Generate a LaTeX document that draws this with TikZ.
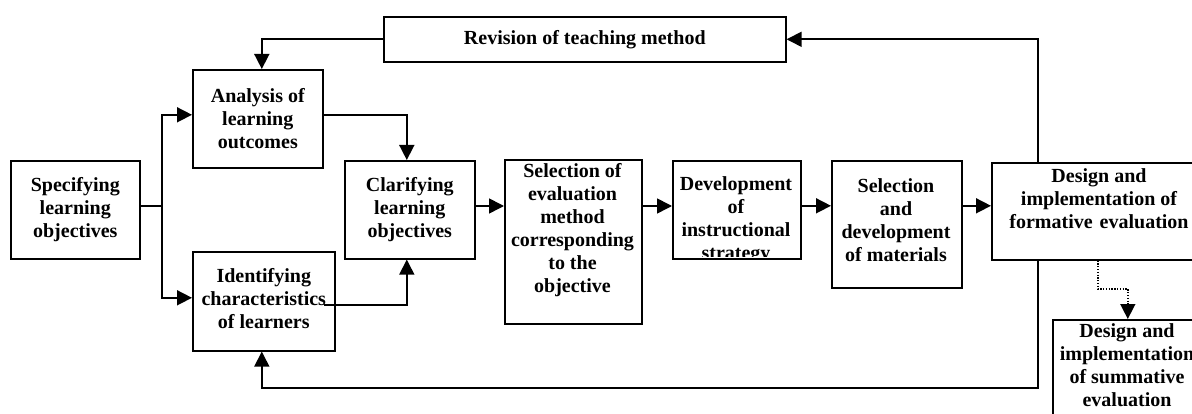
\documentclass[tikz,border=0pt]{standalone}
\usepackage{fontspec}
\setmainfont{Liberation Serif}
\usetikzlibrary{arrows.meta}

\begin{document}
\begin{tikzpicture}[x=1pt,y=-1pt,
  box/.style={draw, line width=1.6pt, inner sep=0pt, anchor=north west},
  txt/.style={align=center, inner sep=0pt,
    font=\bfseries\fontsize{20}{23}\selectfont},
  link/.style={line width=1.6pt},
  arr/.style={link, -{Triangle[length=15pt,width=15pt]}},
  dotarr/.style={line width=1.5pt, dash pattern=on 1.3pt off 1.5pt,
    -{Triangle[length=15pt,width=15pt]}},
  ]
  % page frame
  \clip (0,0) rectangle (1192,414);

  % boxes
  \node[box, minimum width=129pt, minimum height=98pt]  (spec)    at (10,160)  {};
  \node[box, minimum width=130pt, minimum height=98pt]  (anal)    at (192,69)  {};
  \node[box, minimum width=142pt, minimum height=99pt]  (ident)   at (192,251) {};
  \node[box, minimum width=402pt, minimum height=45pt]  (rev)     at (383,16)  {};
  \node[box, minimum width=130pt, minimum height=98pt]  (clar)    at (344,160) {};
  \node[box, minimum width=137pt, minimum height=164pt] (seleval) at (504,159) {};
  \node[box, minimum width=128pt, minimum height=98pt]  (dev)     at (672,160) {};
  \node[box, minimum width=130pt, minimum height=127pt] (selmat)  at (831,160) {};
  \node[box, minimum width=212pt, minimum height=97pt]  (form)    at (991,162) {};
  \node[box, minimum width=150pt, minimum height=120pt] (summ)    at (1052,319) {};

  % box texts
  \node[txt] (t-spec)  at (spec.center)  {Specifying\\learning\\objectives};
  \node[txt] (t-anal)  at (anal.center)  {Analysis of\\learning\\outcomes};
  \node[txt] (t-ident) at ([yshift=3pt]ident.center) {Identifying\\characteristics\\of learners};
  \node[txt] (t-rev)   at (rev.center)   {Revision of teaching method};
  \node[txt] (t-clar)  at (clar.center)  {Clarifying\\learning\\objectives};
  \node[txt, anchor=north] (t-seleval) at (572.5,163)
    {Selection of\\evaluation\\method\\corresponding\\to the\\objective};
  \begin{scope}
    \clip (672,160) rectangle (800,257);
    \node[txt, anchor=north] (t-dev) at (736,176)
      {Development\\of\\instructional\\strategy};
  \end{scope}
  \node[txt, anchor=north] (t-selmat) at (896,178)
    {Selection\\and\\development\\of materials};
  \node[txt, anchor=north] (t-form) at (1099,168)
    {Design and\\implementation of\\formative\hspace{0.35em}evaluation};
  \node[txt, anchor=north] (t-summ) at (1127,323)
    {Design and\\implementation\\of summative\\evaluation};

  % junction points
  \coordinate (fork) at (162,206);
  \coordinate (low)  at (0,388);
  \coordinate (drop) at (0,289);

  % branching from the objectives
  \draw[link] (spec.east |- fork) -- (fork);
  \draw[arr] (fork) |- ([yshift=4pt]anal.west);
  \draw[arr] (fork) |- ([yshift=3.5pt]ident.west);

  % merging into clarification
  \draw[arr] ([yshift=4pt]anal.east) -| ([xshift=-3pt]clar.north);
  \draw[arr] ([xshift=-12pt,yshift=-3.5pt]ident.east) -| ([xshift=-3pt]clar.south);

  % main chain
  \draw[arr] (clar.east |- fork) -- (seleval.west |- fork);
  \draw[arr] (seleval.east |- fork) -- (dev.west |- fork);
  \draw[arr] ([yshift=4pt]dev.east) -- ([yshift=4pt]dev.east -| selmat.west);
  \draw[arr] ([yshift=4pt]dev.east -| selmat.east) -- ([yshift=4pt]dev.east -| form.west);

  % feedback loops
  \draw[arr] ([xshift=-60pt]form.north) |- (rev.east);
  \draw[arr] (rev.west) -| ([xshift=4pt]anal.north);
  \draw[arr] ([xshift=-60pt]form.south) -- ([xshift=-60pt]form.south |- low)
    -| ([xshift=-2pt]ident.south);

  % summative evaluation
  \draw[dotarr] (form.south) -- (form.south |- drop) -| (summ.north);
\end{tikzpicture}
\end{document}
